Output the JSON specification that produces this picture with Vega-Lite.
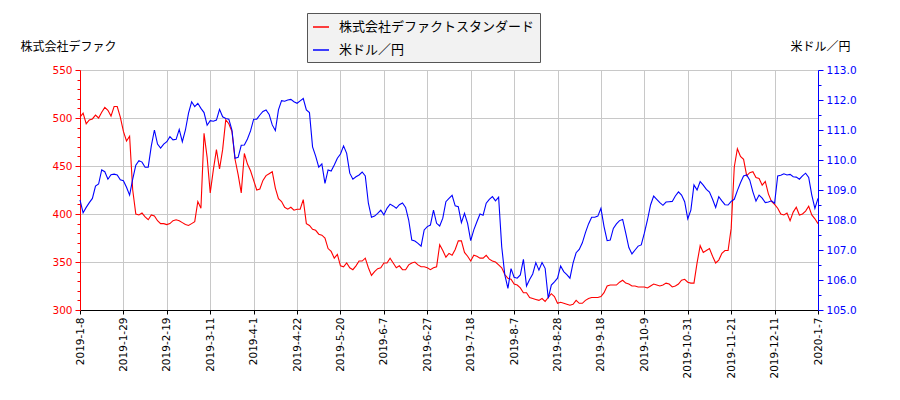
{
"$schema": "https://vega.github.io/schema/vega-lite/v6.json",
"width": 738, "height": 240,
"autosize": {"type": "none"},
"padding": {"left": 80, "top": 70, "right": 82, "bottom": 90},
"background": "white",
"config": {"view": {"stroke": null}, "font": "DejaVu Sans"},
"data": {"values": [
{"d":"2019-01-08","s":501,"u":108.67},{"d":"2019-01-09","s":505,"u":108.24},{"d":"2019-01-10","s":494,"u":108.42},{"d":"2019-01-11","s":498,"u":108.58},{"d":"2019-01-15","s":499,"u":108.72},{"d":"2019-01-16","s":503,"u":109.13},{"d":"2019-01-17","s":500,"u":109.2},{"d":"2019-01-18","s":506,"u":109.67},{"d":"2019-01-21","s":511,"u":109.61},{"d":"2019-01-22","s":508,"u":109.36},
{"d":"2019-01-23","s":502,"u":109.51},{"d":"2019-01-24","s":512,"u":109.53},{"d":"2019-01-25","s":512,"u":109.5},{"d":"2019-01-28","s":501,"u":109.34},{"d":"2019-01-29","s":486,"u":109.31},{"d":"2019-01-30","s":476,"u":109.09},{"d":"2019-01-31","s":481,"u":108.83},{"d":"2019-02-01","s":425,"u":109.36},{"d":"2019-02-04","s":400,"u":109.83},{"d":"2019-02-05","s":399,"u":109.98},
{"d":"2019-02-06","s":401,"u":109.93},{"d":"2019-02-07","s":397,"u":109.76},{"d":"2019-02-08","s":394,"u":109.76},{"d":"2019-02-12","s":399,"u":110.47},{"d":"2019-02-13","s":398,"u":111.0},{"d":"2019-02-14","s":393,"u":110.53},{"d":"2019-02-15","s":390,"u":110.4},{"d":"2019-02-18","s":390,"u":110.53},{"d":"2019-02-19","s":389,"u":110.61},{"d":"2019-02-20","s":390,"u":110.78},
{"d":"2019-02-21","s":393,"u":110.67},{"d":"2019-02-22","s":394,"u":110.69},{"d":"2019-02-25","s":393,"u":111.02},{"d":"2019-02-26","s":391,"u":110.61},{"d":"2019-02-27","s":389,"u":111.0},{"d":"2019-02-28","s":388,"u":111.56},{"d":"2019-03-01","s":390,"u":111.94},{"d":"2019-03-04","s":392,"u":111.78},{"d":"2019-03-05","s":413,"u":111.89},{"d":"2019-03-06","s":406,"u":111.72},
{"d":"2019-03-07","s":484,"u":111.58},{"d":"2019-03-08","s":459,"u":111.16},{"d":"2019-03-11","s":422,"u":111.31},{"d":"2019-03-12","s":446,"u":111.29},{"d":"2019-03-13","s":467,"u":111.33},{"d":"2019-03-14","s":447,"u":111.69},{"d":"2019-03-15","s":467,"u":111.44},{"d":"2019-03-18","s":498,"u":111.38},{"d":"2019-03-19","s":494,"u":111.36},{"d":"2019-03-20","s":486,"u":111.0},
{"d":"2019-03-22","s":457,"u":110.06},{"d":"2019-03-25","s":441,"u":110.09},{"d":"2019-03-26","s":422,"u":110.49},{"d":"2019-03-27","s":463,"u":110.5},{"d":"2019-03-28","s":452,"u":110.7},{"d":"2019-03-29","s":445,"u":110.97},{"d":"2019-04-01","s":435,"u":111.36},{"d":"2019-04-02","s":425,"u":111.36},{"d":"2019-04-03","s":426,"u":111.5},{"d":"2019-04-04","s":435,"u":111.62},
{"d":"2019-04-05","s":440,"u":111.67},{"d":"2019-04-08","s":442,"u":111.52},{"d":"2019-04-09","s":444,"u":111.17},{"d":"2019-04-10","s":427,"u":110.98},{"d":"2019-04-11","s":416,"u":111.67},{"d":"2019-04-15","s":413,"u":111.98},{"d":"2019-04-16","s":407,"u":111.96},{"d":"2019-04-17","s":405,"u":112.0},{"d":"2019-04-18","s":407,"u":112.02},{"d":"2019-04-19","s":404,"u":111.94},
{"d":"2019-04-22","s":405,"u":111.89},{"d":"2019-04-23","s":405,"u":111.97},{"d":"2019-04-24","s":415,"u":112.05},{"d":"2019-04-25","s":390,"u":111.67},{"d":"2019-04-26","s":388,"u":111.58},{"d":"2019-05-07","s":384,"u":110.44},{"d":"2019-05-08","s":383,"u":110.13},{"d":"2019-05-09","s":379,"u":109.76},{"d":"2019-05-10","s":378,"u":109.87},{"d":"2019-05-13","s":375,"u":109.22},
{"d":"2019-05-14","s":364,"u":109.67},{"d":"2019-05-15","s":361,"u":109.63},{"d":"2019-05-16","s":354,"u":109.83},{"d":"2019-05-17","s":358,"u":110.06},{"d":"2019-05-20","s":346,"u":110.2},{"d":"2019-05-21","s":345,"u":110.47},{"d":"2019-05-22","s":349,"u":110.22},{"d":"2019-05-23","s":344,"u":109.56},{"d":"2019-05-24","s":342,"u":109.36},{"d":"2019-05-27","s":346,"u":109.44},
{"d":"2019-05-28","s":351,"u":109.5},{"d":"2019-05-29","s":351,"u":109.6},{"d":"2019-05-30","s":354,"u":109.47},{"d":"2019-05-31","s":344,"u":108.56},{"d":"2019-06-03","s":336,"u":108.09},{"d":"2019-06-04","s":340,"u":108.13},{"d":"2019-06-05","s":343,"u":108.22},{"d":"2019-06-06","s":344,"u":108.33},{"d":"2019-06-07","s":349,"u":108.17},{"d":"2019-06-10","s":349,"u":108.39},
{"d":"2019-06-11","s":354,"u":108.53},{"d":"2019-06-12","s":349,"u":108.47},{"d":"2019-06-13","s":344,"u":108.39},{"d":"2019-06-14","s":346,"u":108.51},{"d":"2019-06-17","s":342,"u":108.57},{"d":"2019-06-18","s":342,"u":108.42},{"d":"2019-06-19","s":347,"u":108.0},{"d":"2019-06-20","s":349,"u":107.33},{"d":"2019-06-21","s":350,"u":107.3},{"d":"2019-06-24","s":347,"u":107.22},
{"d":"2019-06-25","s":345,"u":107.13},{"d":"2019-06-26","s":345,"u":107.67},{"d":"2019-06-27","s":344,"u":107.78},{"d":"2019-06-28","s":342,"u":107.83},{"d":"2019-07-01","s":344,"u":108.33},{"d":"2019-07-02","s":345,"u":107.89},{"d":"2019-07-03","s":368,"u":107.8},{"d":"2019-07-04","s":362,"u":108.06},{"d":"2019-07-05","s":355,"u":108.61},{"d":"2019-07-08","s":359,"u":108.72},
{"d":"2019-07-09","s":357,"u":108.82},{"d":"2019-07-10","s":363,"u":108.47},{"d":"2019-07-11","s":372,"u":108.44},{"d":"2019-07-12","s":372,"u":107.91},{"d":"2019-07-16","s":360,"u":108.22},{"d":"2019-07-17","s":356,"u":107.89},{"d":"2019-07-18","s":351,"u":107.31},{"d":"2019-07-19","s":357,"u":107.67},{"d":"2019-07-22","s":356,"u":107.94},{"d":"2019-07-23","s":354,"u":108.2},
{"d":"2019-07-24","s":354,"u":108.16},{"d":"2019-07-25","s":357,"u":108.56},{"d":"2019-07-26","s":353,"u":108.69},{"d":"2019-07-29","s":351,"u":108.78},{"d":"2019-07-30","s":350,"u":108.64},{"d":"2019-07-31","s":347,"u":108.76},{"d":"2019-08-01","s":344,"u":107.11},{"d":"2019-08-02","s":337,"u":106.17},{"d":"2019-08-05","s":333,"u":105.72},{"d":"2019-08-06","s":332,"u":106.38},
{"d":"2019-08-07","s":327,"u":106.09},{"d":"2019-08-08","s":326,"u":106.06},{"d":"2019-08-09","s":323,"u":106.17},{"d":"2019-08-13","s":318,"u":106.69},{"d":"2019-08-14","s":318,"u":105.8},{"d":"2019-08-15","s":313,"u":106.02},{"d":"2019-08-16","s":312,"u":106.2},{"d":"2019-08-19","s":311,"u":106.58},{"d":"2019-08-20","s":310,"u":106.33},{"d":"2019-08-21","s":312,"u":106.58},
{"d":"2019-08-22","s":309,"u":106.39},{"d":"2019-08-23","s":313,"u":105.39},{"d":"2019-08-26","s":317,"u":105.83},{"d":"2019-08-27","s":314,"u":105.94},{"d":"2019-08-28","s":307,"u":106.06},{"d":"2019-08-29","s":308,"u":106.47},{"d":"2019-08-30","s":307,"u":106.28},{"d":"2019-09-02","s":306,"u":106.18},{"d":"2019-09-03","s":305,"u":106.06},{"d":"2019-09-04","s":306,"u":106.56},
{"d":"2019-09-05","s":310,"u":106.91},{"d":"2019-09-06","s":307,"u":107.02},{"d":"2019-09-09","s":307,"u":107.24},{"d":"2019-09-10","s":310,"u":107.58},{"d":"2019-09-11","s":312,"u":107.87},{"d":"2019-09-12","s":313,"u":108.09},{"d":"2019-09-13","s":313,"u":108.09},{"d":"2019-09-17","s":313,"u":108.13},{"d":"2019-09-18","s":314,"u":108.39},{"d":"2019-09-19","s":318,"u":107.78},
{"d":"2019-09-20","s":325,"u":107.31},{"d":"2019-09-24","s":326,"u":107.33},{"d":"2019-09-25","s":326,"u":107.72},{"d":"2019-09-26","s":326,"u":107.87},{"d":"2019-09-27","s":329,"u":107.98},{"d":"2019-09-30","s":331,"u":108.02},{"d":"2019-10-01","s":328,"u":107.56},{"d":"2019-10-02","s":327,"u":107.08},{"d":"2019-10-03","s":325,"u":106.87},{"d":"2019-10-04","s":325,"u":107.0},
{"d":"2019-10-07","s":324,"u":107.13},{"d":"2019-10-08","s":324,"u":107.17},{"d":"2019-10-09","s":324,"u":107.56},{"d":"2019-10-10","s":323,"u":108.0},{"d":"2019-10-11","s":325,"u":108.5},{"d":"2019-10-15","s":327,"u":108.8},{"d":"2019-10-16","s":326,"u":108.69},{"d":"2019-10-17","s":325,"u":108.58},{"d":"2019-10-18","s":326,"u":108.49},{"d":"2019-10-21","s":328,"u":108.6},
{"d":"2019-10-23","s":327,"u":108.61},{"d":"2019-10-24","s":324,"u":108.62},{"d":"2019-10-25","s":325,"u":108.8},{"d":"2019-10-28","s":327,"u":108.94},{"d":"2019-10-29","s":331,"u":108.83},{"d":"2019-10-30","s":332,"u":108.61},{"d":"2019-10-31","s":329,"u":108.04},{"d":"2019-11-01","s":328,"u":108.33},{"d":"2019-11-05","s":328,"u":109.17},{"d":"2019-11-06","s":349,"u":109.0},
{"d":"2019-11-07","s":367,"u":109.28},{"d":"2019-11-08","s":360,"u":109.16},{"d":"2019-11-11","s":362,"u":109.02},{"d":"2019-11-12","s":364,"u":108.93},{"d":"2019-11-13","s":356,"u":108.69},{"d":"2019-11-14","s":349,"u":108.42},{"d":"2019-11-15","s":352,"u":108.78},{"d":"2019-11-18","s":359,"u":108.64},{"d":"2019-11-19","s":362,"u":108.51},{"d":"2019-11-20","s":362,"u":108.5},
{"d":"2019-11-21","s":385,"u":108.62},{"d":"2019-11-22","s":449,"u":108.69},{"d":"2019-11-25","s":468,"u":108.98},{"d":"2019-11-26","s":460,"u":109.24},{"d":"2019-11-27","s":457,"u":109.47},{"d":"2019-11-28","s":440,"u":109.5},{"d":"2019-11-29","s":443,"u":109.33},{"d":"2019-12-02","s":444,"u":108.94},{"d":"2019-12-03","s":438,"u":108.63},{"d":"2019-12-04","s":437,"u":108.83},
{"d":"2019-12-05","s":430,"u":108.73},{"d":"2019-12-06","s":434,"u":108.58},{"d":"2019-12-09","s":421,"u":108.6},{"d":"2019-12-10","s":413,"u":108.64},{"d":"2019-12-11","s":410,"u":108.56},{"d":"2019-12-12","s":406,"u":109.47},{"d":"2019-12-13","s":400,"u":109.49},{"d":"2019-12-16","s":399,"u":109.54},{"d":"2019-12-17","s":401,"u":109.5},{"d":"2019-12-18","s":393,"u":109.52},
{"d":"2019-12-19","s":402,"u":109.44},{"d":"2019-12-20","s":407,"u":109.43},{"d":"2019-12-23","s":399,"u":109.36},{"d":"2019-12-24","s":400,"u":109.47},{"d":"2019-12-25","s":403,"u":109.56},{"d":"2019-12-26","s":408,"u":109.42},{"d":"2019-12-27","s":399,"u":108.83},{"d":"2020-01-06","s":395,"u":108.39},{"d":"2020-01-07","s":390,"u":108.72}
]},
"encoding": {
  "x": {"field": "d", "type": "ordinal", "sort": "ascending",
    "scale": {"type": "point", "padding": 0},
    "axis": {"title": null,
      "values": ["2019-01-08","2019-01-29","2019-02-19","2019-03-11","2019-04-01","2019-04-22","2019-05-20","2019-06-07","2019-06-27","2019-07-18","2019-08-07","2019-08-28","2019-09-18","2019-10-09","2019-10-31","2019-11-21","2019-12-11","2020-01-07"],
      "labelExpr": "toNumber(substring(datum.value,0,4)) + '-' + toNumber(substring(datum.value,5,7)) + '-' + toNumber(substring(datum.value,8,10))",
      "labelAngle": -90, "labelAlign": "right", "labelBaseline": "middle",
      "labelFont": "DejaVu Sans", "labelFontSize": 10.5, "labelColor": "black", "labelPadding": 3,
      "tickColor": "black", "tickSize": 4, "domainColor": "black",
      "grid": true, "gridColor": "#c8c8c8", "gridWidth": 1}}
},
"layer": [
  {"mark": {"type": "line", "strokeWidth": 1.1},
   "encoding": {
     "y": {"field": "s", "type": "quantitative",
       "scale": {"domain": [300, 550], "zero": false, "nice": false},
       "axis": {"orient": "left",
         "values": [300,310,320,330,340,350,360,370,380,390,400,410,420,430,440,450,460,470,480,490,500,510,520,530,540,550],
         "labelExpr": "datum.value % 50 === 0 ? datum.value : ''",
         "labelFont": "DejaVu Sans", "labelFontSize": 10.5, "labelColor": "red", "labelPadding": 3,
         "tickColor": "red", "domainColor": "red",
         "tickSize": {"condition": {"test": "datum.value % 50 === 0", "value": 5}, "value": 3},
         "grid": true, "gridColor": "#c8c8c8", "gridWidth": 1,
         "gridOpacity": {"condition": {"test": "datum.value % 50 === 0", "value": 1}, "value": 0},
         "title": "株式会社デファク", "titleAngle": 0, "titleX": -60, "titleY": -24,
         "titleAlign": "left", "titleBaseline": "middle",
         "titleFont": "Noto Sans CJK JP", "titleFontSize": 12, "titleFontWeight": "normal", "titleColor": "black"}},
     "color": {"datum": "株式会社デファクトスタンダード", "type": "nominal",
       "scale": {"domain": ["株式会社デファクトスタンダード", "米ドル／円"], "range": ["red", "blue"]},
       "legend": {"orient": "none", "legendX": 227, "legendY": -57, "direction": "vertical",
         "title": null, "symbolType": "stroke", "symbolSize": 256, "symbolStrokeWidth": 1.5,
         "labelFont": "Noto Sans CJK JP", "labelFontSize": 13, "labelColor": "black", "labelOffset": 9,
         "labelLimit": 400,
         "rowPadding": 7, "padding": 5, "strokeColor": "#555", "fillColor": "#f2f2f2", "cornerRadius": 0}}
   }},
  {"mark": {"type": "line", "strokeWidth": 1.1},
   "encoding": {
     "y": {"field": "u", "type": "quantitative",
       "scale": {"domain": [105, 113], "zero": false, "nice": false},
       "axis": {"orient": "right",
         "values": [105,105.5,106,106.5,107,107.5,108,108.5,109,109.5,110,110.5,111,111.5,112,112.5,113],
         "labelExpr": "datum.value % 1 === 0 ? format(datum.value, '.1f') : ''",
         "labelFont": "DejaVu Sans", "labelFontSize": 10.5, "labelColor": "blue", "labelPadding": 3,
         "tickColor": "blue", "domainColor": "blue",
         "tickSize": {"condition": {"test": "datum.value % 1 === 0", "value": 5}, "value": 3},
         "grid": false,
         "title": "米ドル／円", "titleAngle": 0, "titleX": -28, "titleY": -24,
         "titleAlign": "left", "titleBaseline": "middle",
         "titleFont": "Noto Sans CJK JP", "titleFontSize": 12, "titleFontWeight": "normal", "titleColor": "black"}},
     "color": {"datum": "米ドル／円", "type": "nominal"}
   }}
],
"resolve": {"scale": {"y": "independent"}}
}
